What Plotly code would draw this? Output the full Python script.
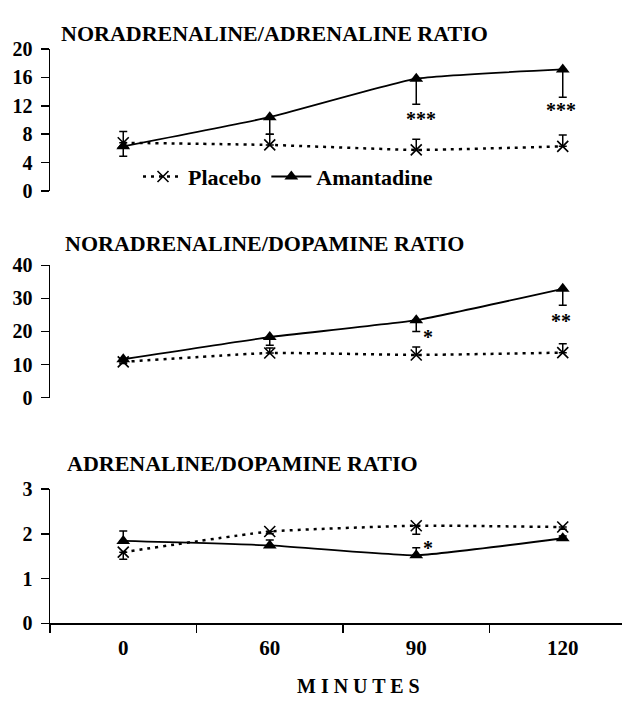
import plotly.graph_objects as go

# ---------------- data ----------------
minutes = ["0", "60", "90", "120"]

# Noradrenaline / adrenaline ratio
na_a_placebo = [6.8, 6.5, 5.8, 6.3]
na_a_placebo_err = [1.6, 1.5, 1.5, 1.6]
na_a_amant = [6.3, 10.4, 15.8, 17.1]
na_a_amant_err = [1.4, 2.4, 3.6, 3.9]

# Noradrenaline / dopamine ratio
na_da_placebo = [10.8, 13.5, 12.9, 13.6]
na_da_placebo_err = [1.0, 1.5, 2.4, 2.7]
na_da_amant = [11.6, 18.3, 23.4, 32.9]
na_da_amant_err = [1.3, 2.5, 3.4, 5.0]

# Adrenaline / dopamine ratio
a_da_placebo = [1.59, 2.05, 2.18, 2.15]
a_da_placebo_err = [0.16, 0.05, 0.19, 0.05]
a_da_amant = [1.84, 1.74, 1.52, 1.90]
a_da_amant_err = [0.22, 0.12, 0.17, 0.05]

titles = ["NORADRENALINE/ADRENALINE RATIO",
          "NORADRENALINE/DOPAMINE RATIO",
          "ADRENALINE/DOPAMINE RATIO"]
y_ticks = [[0, 4, 8, 12, 16, 20], [0, 10, 20, 30, 40], [0, 1, 2, 3]]

# significance marks: (panel, category, y value, text)
sig_panel = [1, 1, 2, 2, 3]
sig_cat = ["90", "120", "90", "120", "90"]
sig_y = [10.9, 12.1, 19.9, 24.6, 1.79]
sig_text = ["***", "***", "*", "**", "*"]
sig_dx = [5, -2, 12, -2, 12]

# ---------------- layout geometry ----------------
W, H = 622, 708
ML = 50
panel_px = [(39, 186), (262.5, 399), (493.3, 632)]
title_px = [(59, 23), (63, 240), (65, 467)]
cat_step = 146.5
x_range = [-0.5, -0.5 + (W - ML) / cat_step]

FONT = "Liberation Serif"


def py(px):
    return 1 - px / H


def pxx(px):
    return (px - ML) / (W - ML)


fig = go.Figure()

panels = [
    (na_a_placebo, na_a_placebo_err, na_a_amant, na_a_amant_err, True),
    (na_da_placebo, na_da_placebo_err, na_da_amant, na_da_amant_err, True),
    (a_da_placebo, a_da_placebo_err, a_da_amant, a_da_amant_err, False),
]

for i, (pl, ple, am, ame, placebo_up) in enumerate(panels):
    n = i + 1
    xa = "x" if n == 1 else f"x{n}"
    ya = "y" if n == 1 else f"y{n}"
    zeros = [0] * len(pl)
    fig.add_trace(go.Scatter(
        x=minutes, y=pl, xaxis=xa, yaxis=ya, name="Placebo",
        mode="lines+markers", showlegend=(n == 1),
        line=dict(color="black", width=2.5, dash="3px,5px", shape="spline", smoothing=0.4),
        marker=dict(symbol="x-thin-open", size=11, line=dict(color="black", width=1.6)),
        error_y=dict(type="data", symmetric=False,
                     array=ple if placebo_up else zeros,
                     arrayminus=zeros if placebo_up else ple,
                     color="black", thickness=1.5, width=4),
    ))
    fig.add_trace(go.Scatter(
        x=minutes, y=am, xaxis=xa, yaxis=ya, name="Amantadine",
        mode="lines+markers", showlegend=(n == 1),
        line=dict(color="black", width=1.8, shape="spline", smoothing=0.4),
        marker=dict(symbol="triangle-up", size=12, color="black"),
        error_y=dict(type="data", symmetric=False,
                     array=zeros if placebo_up else ame,
                     arrayminus=ame if placebo_up else zeros,
                     color="black", thickness=1.5, width=4),
    ))

layout = dict(
    width=W, height=H,
    margin=dict(l=ML, r=0, t=0, b=0),
    paper_bgcolor="white", plot_bgcolor="white",
    font=dict(family=FONT, size=20, color="black", weight="bold"),
    legend=dict(orientation="h", x=pxx(138), y=py(171), xanchor="left", yanchor="middle",
                font=dict(family=FONT, size=22, color="black", weight="bold"),
                itemwidth=40, bgcolor="rgba(0,0,0,0)", traceorder="normal",
                tracegroupgap=0, itemclick=False),
)

for i in range(3):
    n = i + 1
    top, bot = panel_px[i]
    xkey = "xaxis" if n == 1 else f"xaxis{n}"
    ykey = "yaxis" if n == 1 else f"yaxis{n}"
    ya = "y" if n == 1 else f"y{n}"
    xa = "x" if n == 1 else f"x{n}"
    bottom = (n == 3)
    layout[xkey] = dict(
        type="category", categoryorder="array", categoryarray=minutes,
        range=x_range, domain=[0, 1], anchor=ya,
        showgrid=False, zeroline=False,
        showline=bottom, linecolor="black", linewidth=1.5,
        ticks="outside" if bottom else "", tickson="boundaries", ticklen=8,
        tickwidth=1.5, tickcolor="black",
        showticklabels=bottom, ticklabelstandoff=5,
        tickfont=dict(family=FONT, size=21, color="black", weight="bold"),
        fixedrange=True,
    )
    yt = y_ticks[i]
    layout[ykey] = dict(
        domain=[py(bot), py(top)], anchor=xa,
        range=[yt[0], yt[-1]], tickmode="array", tickvals=yt,
        showgrid=False, zeroline=False,
        showline=True, linecolor="black", linewidth=1.5,
        ticks="outside", ticklen=8, tickwidth=1.5, tickcolor="black",
        tickfont=dict(family=FONT, size=20, color="black", weight="bold"),
        ticklabelstandoff=4,
        fixedrange=True,
    )

fig.update_layout(**layout)

# panel titles
for i, t in enumerate(titles):
    tx, ty = title_px[i]
    fig.add_annotation(text=t, xref="paper", yref="paper", x=pxx(tx), y=py(ty),
                       xanchor="left", yanchor="middle", showarrow=False,
                       font=dict(family=FONT, size=22, color="black", weight="bold"))

# significance marks (category axes take the category index)
for p, c, yv, t, dx in zip(sig_panel, sig_cat, sig_y, sig_text, sig_dx):
    xa = "x" if p == 1 else f"x{p}"
    ya = "y" if p == 1 else f"y{p}"
    fig.add_annotation(text=t, xref=xa, yref=ya, x=minutes.index(c), y=yv,
                       xshift=dx, yshift=-5,
                       showarrow=False, xanchor="center", yanchor="middle",
                       font=dict(family=FONT, size=20, color="black"))

# x axis title
fig.add_annotation(text="M I N U T E S", xref="paper", yref="paper",
                   x=pxx(358), y=py(697), xanchor="center", yanchor="middle",
                   showarrow=False,
                   font=dict(family=FONT, size=20, color="black", weight="bold"))

fig.write_html("out.html", config={"displayModeBar": False, "staticPlot": True},
               post_script="document.body.style.margin='0px';")
